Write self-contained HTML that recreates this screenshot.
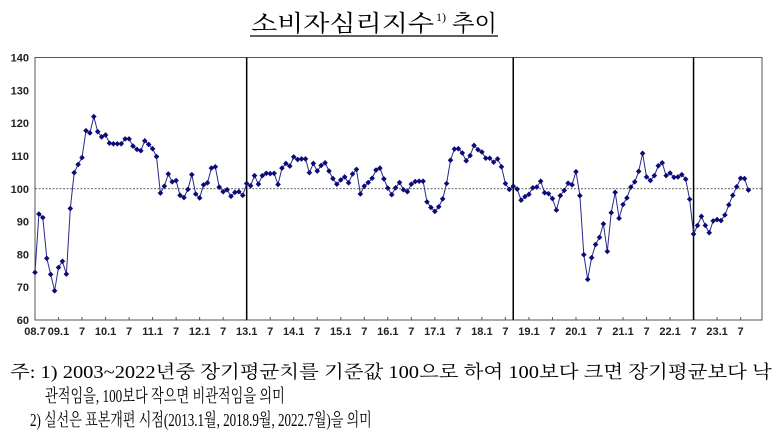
<!DOCTYPE html>
<html><head><meta charset="utf-8"><style>
html,body{margin:0;padding:0;background:#fff;}
body{width:780px;height:436px;overflow:hidden;position:relative;}
</style></head><body>
<svg id="chart" width="780" height="436" viewBox="0 0 780 436" xmlns="http://www.w3.org/2000/svg">
  <g font-family="'Noto Serif CJK KR','Noto Serif CJK SC',serif" fill="#000">
    <text class="fit" data-x="251" data-w="183" y="31" font-size="23">소비자심리지수</text>
    <text x="436" y="21" font-family="'Liberation Serif',serif" font-size="12" fill="#000">1)</text>
    <text class="fit" data-x="452" data-w="45" y="31" font-size="23">추이</text>
    <line x1="250" y1="36" x2="498" y2="36" stroke="#000" stroke-width="1.2"/>
  </g>
  <g id="plot"></g>
  <g font-family="'Liberation Serif','Noto Serif CJK KR','Noto Serif CJK SC',serif" font-size="18" fill="#000">
    <text class="fit" data-x="10" data-w="762" y="378">주: 1) 2003~2022년중 장기평균치를 기준값 100으로 하여 100보다 크면 장기평균보다 낙</text>
    <text class="fit" data-x="45" data-w="240" y="402">관적임을, 100보다 작으면 비관적임을 의미</text>
    <text class="fit" data-x="30" data-w="342" y="426">2) 실선은 표본개편 시점(2013.1월, 2018.9월, 2022.7월)을 의미</text>
  </g>
</svg>
<script>
const startYear = 2008, startMonth = 7;
const values = [
74.5,92.3,91.2,78.8,73.9,68.9,
76,77.9,74,94,104.9,107.4,109.5,117.7,117,122,117.4,115.8,
116.4,113.9,113.7,113.7,113.7,115.2,115.2,113,112,111.6,114.6,113.5,
112.2,109.8,98.7,100.8,104.5,102.1,102.5,98,97.3,99.8,104.3,98.4,
97.2,101.2,101.8,106.3,106.7,100.5,99.1,99.7,97.7,98.9,99.1,98,
101.6,100.9,104,101.4,104,104.7,104.6,104.7,101.3,106.3,107.7,106.9,
109.7,108.9,109.1,109.1,104.9,107.7,105.4,107.1,107.9,105.4,103.1,101.4,
102.7,103.6,101.8,104.5,105.9,98.4,100.8,101.9,103.2,105.7,106.3,103,
100.2,98.2,100.3,101.9,99.7,99.1,101.4,102.2,102.3,102.3,96,94.3,
93.1,94.5,96.9,101.6,108.7,112.1,112.2,110.9,108.5,110.1,113.2,111.9,
111.2,109.3,109.3,108.1,109.1,106.7,101.6,99.8,100.8,99.9,96.5,97.6,
98.3,100.3,100.5,102.3,98.8,98.5,97,93.5,97.9,99.5,101.7,101.2,
105.2,97.9,79.9,72.4,79,83,85.2,89.3,80.9,92.7,98.9,91,
95.2,97.2,100.5,102.1,105.3,110.8,103.6,102.5,104,107,107.9,104,
104.8,103.5,103.6,104.3,102.9,96.8,86.2,88.8,91.6,88.8,86.6,90.2,
90.6,90.3,92,95.1,98,100.6,103.2,103.1,99.6
];
const yTicks = [60,70,80,90,100,110,120,130,140];
const xTickLabels = ["08.7","09.1","7","10.1","7","11.1","7","12.1","7","13.1","7","14.1","7","15.1","7","16.1","7","17.1","7","18.1","7","19.1","7","20.1","7","21.1","7","22.1","7","23.1","7"];
const revisionMonths = [54,122,168];
const baseline = 100;

const NS="http://www.w3.org/2000/svg";
const L=35,R=762,T=57.5,B=320,monthW=3.92;
const X=i=>L+i*monthW;
const Y=v=>B-(v-60)/(140-60)*(B-T);
const plot=document.getElementById('plot');
function mk(tag,attrs,parent){const e=document.createElementNS(NS,tag);for(const k in attrs)e.setAttribute(k,attrs[k]);(parent||plot).appendChild(e);return e;}

const frame=mk('rect',{x:L,y:T,width:R-L,height:B-T,fill:'none',stroke:'#555','stroke-width':1});



yTicks.forEach(t=>{
  const tx=mk('text',{x:29,y:Y(t)+4,'text-anchor':'end','font-family':'Liberation Sans, sans-serif','font-size':11,'font-weight':'bold',fill:'#222'});
  tx.textContent=t;
  
  
});
xTickLabels.forEach((lab,k)=>{
  const x=X(k*6);
  const tk=mk('line',{x1:x,y1:B,x2:x,y2:B-3,stroke:'#555','stroke-width':1});
  
  
  const tx=mk('text',{x:x,y:335,'text-anchor':'middle','font-family':'Liberation Sans, sans-serif','font-size':11,'font-weight':'bold',fill:'#222'});
  tx.textContent=lab;
  
  
});
const bl=mk('line',{x1:L,y1:Y(baseline),x2:R,y2:Y(baseline),stroke:'#333','stroke-width':0.8,'stroke-dasharray':'2,1.5'});


revisionMonths.forEach(m=>{
  const ln=mk('line',{x1:X(m),y1:T,x2:X(m),y2:B,stroke:'#000','stroke-width':1.5});
  
  
});
const pts=values.map((v,i)=>X(i).toFixed(1)+','+Y(v).toFixed(1)).join(' ');
const line=mk('polyline',{points:pts,fill:'none',stroke:'#2a2a8a','stroke-width':1});


values.forEach((v,i)=>{
  const x=X(i),y=Y(v),s=2.8;
  const d=mk('polygon',{points:`${x},${y-s} ${x+s},${y} ${x},${y+s} ${x-s},${y}`,fill:'#0a0a78'});
  
  
});

document.querySelectorAll('text.fit').forEach(t=>{
  const x=+t.getAttribute('data-x'), w=+t.getAttribute('data-w');
  t.setAttribute('x',0);
  const len=t.getComputedTextLength()||w;
  const s=w/len;
  t.setAttribute('transform',`translate(${x},0) scale(${s},1)`);
});
</script>
</body></html>
